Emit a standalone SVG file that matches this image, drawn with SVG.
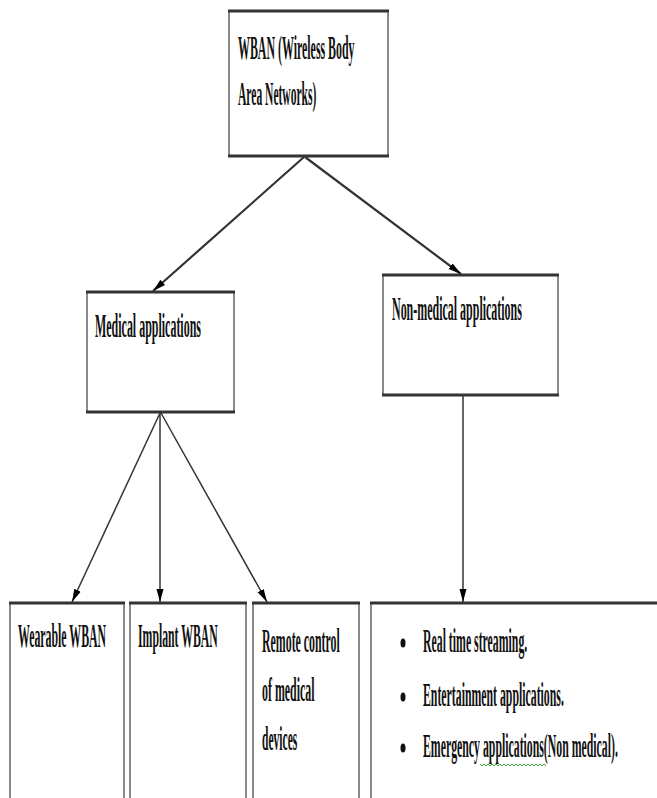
<svg xmlns="http://www.w3.org/2000/svg" width="657" height="798" viewBox="0 0 657 798">
<style>
.box{fill:#fff;stroke:#666;stroke-width:1.5}
.edge{stroke:#333;stroke-width:3}
.t{font-family:"Liberation Serif","Times New Roman",serif;font-weight:bold;font-size:34px;fill:#111}
.c{fill:none;stroke:#333;stroke-width:2.2}
.c2{fill:none;stroke:#333;stroke-width:1.5}
</style>
<defs>
<marker id="ah" markerUnits="userSpaceOnUse" markerWidth="14" markerHeight="8" refX="13" refY="4" orient="auto">
<path d="M0,0.5 L13,4 L0,7.5 Z" fill="#000"/>
</marker>
</defs>
<rect width="657" height="798" fill="#fff"/>
<g id="connectors">
<line class="c" x1="304" y1="157" x2="153" y2="291" marker-end="url(#ah)"/>
<line class="c" x1="305" y1="157" x2="461" y2="274" marker-end="url(#ah)"/>
<line class="c2" x1="160" y1="413" x2="72" y2="602" marker-end="url(#ah)"/>
<line class="c2" x1="160" y1="413" x2="160" y2="602" marker-end="url(#ah)"/>
<line class="c2" x1="161" y1="413" x2="267" y2="602" marker-end="url(#ah)"/>
<line class="c2" x1="463" y1="396" x2="463" y2="602" marker-end="url(#ah)"/>
</g>
<g id="wban">
<rect class="box" x="229" y="11" width="159" height="145"/>
<line class="edge" x1="228" y1="11" x2="389" y2="11"/>
<line class="edge" x1="228" y1="156" x2="389" y2="156"/>
<text class="t" transform="translate(238,59) scale(0.35,1)">WBAN (Wireless Body</text>
<text class="t" transform="translate(238,105) scale(0.34,1)">Area Networks)</text>
</g>
<g id="medical">
<rect class="box" x="87" y="292" width="147" height="120"/>
<line class="edge" x1="86" y1="292" x2="235" y2="292"/>
<line class="edge" x1="86" y1="412" x2="235" y2="412"/>
<text class="t" transform="translate(95,337) scale(0.352,1)">Medical applications</text>
</g>
<g id="nonmedical">
<rect class="box" x="383" y="275" width="175" height="120"/>
<line class="edge" x1="382" y1="275" x2="559" y2="275"/>
<line class="edge" x1="382" y1="395" x2="559" y2="395"/>
<text class="t" transform="translate(392,320) scale(0.352,1)">Non-medical applications</text>
</g>
<g id="wearable">
<rect class="box" x="10" y="603" width="114" height="200"/>
<line class="edge" x1="9" y1="603" x2="125" y2="603"/>
<text class="t" transform="translate(18,647) scale(0.348,1)">Wearable WBAN</text>
</g>
<g id="implant">
<rect class="box" x="130" y="603" width="116" height="200"/>
<line class="edge" x1="129" y1="603" x2="247" y2="603"/>
<text class="t" transform="translate(138,647) scale(0.346,1)">Implant WBAN</text>
</g>
<g id="remote">
<rect class="box" x="253" y="603" width="106" height="200"/>
<line class="edge" x1="252" y1="603" x2="360" y2="603"/>
<text class="t" transform="translate(262,652) scale(0.349,1)">Remote control</text>
<text class="t" transform="translate(262,701) scale(0.35,1)">of medical</text>
<text class="t" transform="translate(262,750) scale(0.34,1)">devices</text>
</g>
<g id="nonmedical-list">
<rect class="box" x="371" y="603" width="300" height="200"/>
<line class="edge" x1="370" y1="603" x2="660" y2="603"/>
<ellipse cx="403" cy="643" rx="2.5" ry="4.5" fill="#111"/>
<ellipse cx="403" cy="697" rx="2.5" ry="4.5" fill="#111"/>
<ellipse cx="403" cy="748" rx="2.5" ry="4.5" fill="#111"/>
<text class="t" transform="translate(423,652) scale(0.347,1)">Real time streaming.</text>
<text class="t" transform="translate(423,706) scale(0.347,1)">Entertainment applications.</text>
<text class="t" transform="translate(423,757) scale(0.347,1)">Emergency applications(Non medical).</text>
<path d="M480,764 l2,2 l2,-2 l2,2 l2,-2 l2,2 l2,-2 l2,2 l2,-2 l2,2 l2,-2 l2,2 l2,-2 l2,2 l2,-2 l2,2 l2,-2 l2,2 l2,-2 l2,2 l2,-2 l2,2 l2,-2 l2,2 l2,-2 l2,2 l2,-2 l2,2 l2,-2 l2,2 l2,-2 l2,2 l2,-2 l2,2" fill="none" stroke="#3a3" stroke-width="1"/>
</g>
</svg>
